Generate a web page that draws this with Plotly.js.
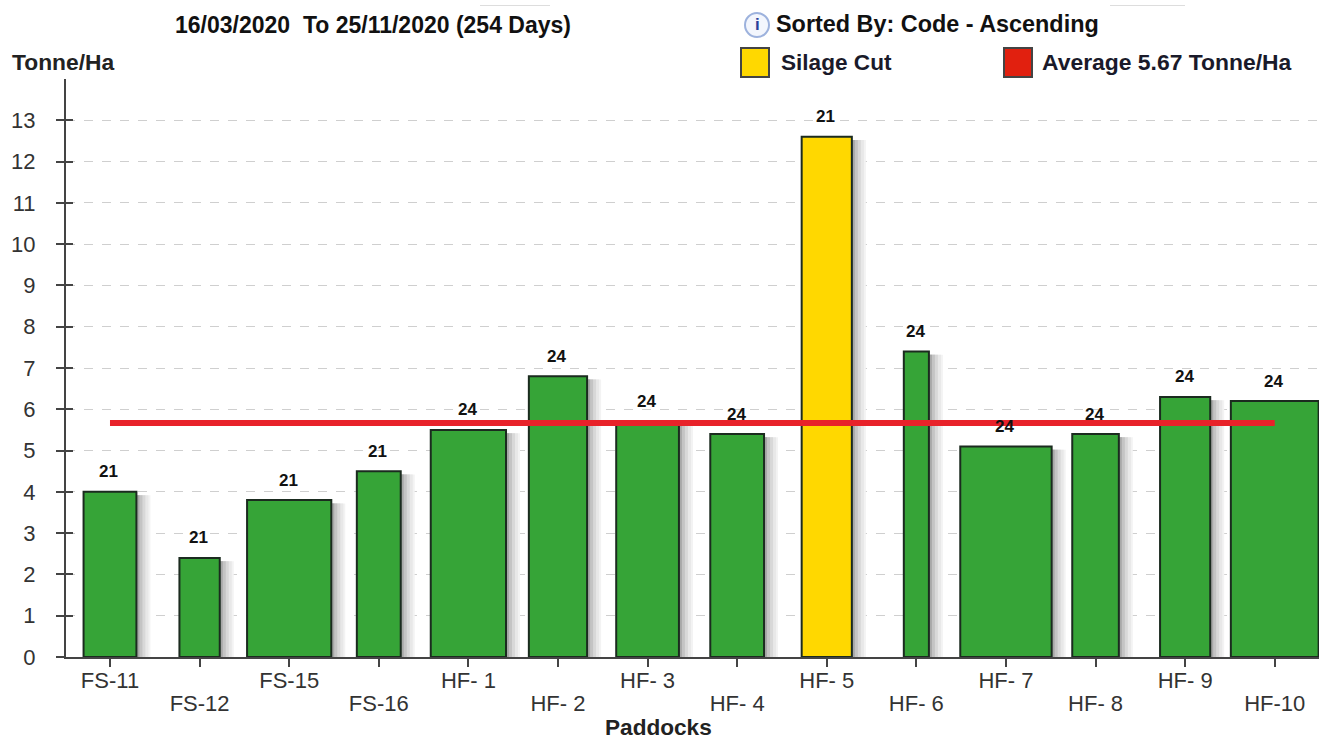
<!DOCTYPE html>
<html><head><meta charset="utf-8">
<script src="https://cdn.plot.ly/plotly-3.0.1.min.js"></script>
<style>html,body{margin:0;padding:0;background:#fff}#c{width:1319px;height:740px}</style>
</head><body><div id="c"></div>
<script>
const paddocks = ["FS-11","FS-12","FS-15","FS-16","HF- 1","HF- 2","HF- 3","HF- 4","HF- 5","HF- 6","HF- 7","HF- 8","HF- 9","HF-10"];
const tonnePerHa = [4.0,2.4,3.8,4.5,5.5,6.8,5.7,5.4,12.6,7.4,5.1,5.4,6.3,6.2];
const barLabels = ["21","21","21","21","24","24","24","24","21","24","24","24","24","24"];
const barWidths = [0.59,0.45,0.94,0.49,0.84,0.65,0.70,0.60,0.56,0.28,1.02,0.52,0.56,0.98];
const silageCut = ["HF- 5"];
const average = 5.67;

const pos = paddocks.map((_, i) => i);
const pxPerCat = 89.6;
const GREEN = "#36a437", YELLOW = "#ffd800", RED = "#e8222a", EDGE = "#1b2b1f";
const FONT = "Liberation Sans, Arial, sans-serif";

const shadowLayers = [[14,"#f3f3f3"],[12,"#e8e8e8"],[9,"#d8d8d8"],[6,"#c4c4c4"],[3,"#a8a8a8"]];
const traces = shadowLayers.map(([s, col]) => ({
  type:"bar", x:pos, y:tonnePerHa.map(v => v - 0.08), width:barWidths,
  offset:barWidths.map(w => -w/2 + s/pxPerCat),
  marker:{color:col,line:{width:0}}, hoverinfo:"skip", showlegend:false
}));
traces.push({
  type:"bar", x:pos, y:tonnePerHa, width:barWidths, name:"Paddocks",
  marker:{color:paddocks.map(p => silageCut.includes(p) ? YELLOW : GREEN), line:{color:EDGE,width:2}},
  showlegend:false
});
traces.push({
  type:"scatter", mode:"lines", x:[pos[0],pos[pos.length-1]], y:[average,average],
  line:{color:RED,width:6}, showlegend:false, name:"Average"
});
traces.push({type:"scatter",mode:"markers",x:[0],y:[0],xaxis:"x2",yaxis:"y2",opacity:0,hoverinfo:"skip",showlegend:false});

const txt = (text,x,y,size,bold,anchor,color) => ({
  text: bold ? "<b>"+text+"</b>" : text, x, y, xref:"paper", yref:"paper", xanchor:anchor||"left", yanchor:"middle",
  showarrow:false, font:{family:FONT,size,color:color||"#111"}
});
const W=1319,H=740;
const L=66,T=79,B=83,PW=W-L,PH=H-T-B;
const ax=x=>(x-L)/PW, ay=y=>(H-B-y)/PH;

const annotations = [
  ...pos.map(i => ({x:i,y:tonnePerHa[i],xref:"x",yref:"y",text:"<b>"+barLabels[i]+"</b>",showarrow:false,yanchor:"middle",xanchor:"center",yshift:20,xshift:-1,font:{family:FONT,size:17,color:"#111"}})),
  txt("16/03/2020  To 25/11/2020 (254 Days)",ax(173),ay(25),23,true),
  txt("Sorted By: Code - Ascending",ax(774),ay(24),23.4,true),
  txt("Silage Cut",ax(779),ay(62),22.6,true,"left","#1a1a2a"),
  txt("Average 5.67 Tonne/Ha",ax(1040),ay(62),22.9,true,"left","#1a1a2a"),
  txt("Tonne/Ha",ax(10),ay(62),22.8,true,"left","#222"),
  txt("Paddocks",ax(658),ay(727),22.6,true,"center","#222"),
  txt("i",ax(757),ay(25),17,true,"center","#2a3f9a")
];
const rect=(x0,y0,x1,y1,fill,line)=>({type:"rect",xref:"paper",yref:"paper",x0:ax(x0),x1:ax(x1),y0:ay(y1),y1:ay(y0),fillcolor:fill,line:{color:line,width:2}});
const faint=(x0,x1)=>({type:"line",xref:"paper",yref:"paper",x0:ax(x0),x1:ax(x1),y0:ay(5.5),y1:ay(5.5),line:{color:"#dddddd",width:1}});
const shapes = [
  rect(741,48,769,77,YELLOW,"#444"),
  rect(1004,48,1032,77,"#e1200f","#444"),
  {type:"circle",xref:"paper",yref:"paper",x0:ax(745),x1:ax(769),y0:ay(37),y1:ay(13),fillcolor:"#f3f6fd",line:{color:"#9db2dd",width:2}},
  faint(1110,1185), faint(480,550)
];
const yTicks=[0,1,2,3,4,5,6,7,8,9,10,11,12,13];
const layout = {
  width:W,height:H,margin:{l:L,r:0,t:T,b:B,pad:0},
  paper_bgcolor:"#fff",plot_bgcolor:"#fff",barmode:"overlay",showlegend:false,
  font:{family:FONT,color:"#333"},
  xaxis:{range:[-0.491,13.494],tickmode:"array",tickvals:pos,ticktext:paddocks.map((p,i)=>i%2?" ":p),
    ticks:"outside",ticklen:8,tickcolor:"#444",tickwidth:2,showgrid:false,zeroline:false,
    showline:true,linecolor:"#444",linewidth:2,tickfont:{size:22,color:"#333"},ticklabelstandoff:-5,automargin:false},
  xaxis2:{overlaying:"x",range:[-0.491,13.494],tickmode:"array",tickvals:pos.filter(i=>i%2),ticktext:paddocks.filter((p,i)=>i%2),
    ticks:"",side:"bottom",showgrid:false,zeroline:false,showline:false,tickfont:{size:22,color:"#333"},ticklabelstandoff:31,automargin:false},
  yaxis:{range:[0,14],tickmode:"array",tickvals:yTicks,
    ticks:"outside",ticklen:8,tickcolor:"#444",tickwidth:2,showgrid:true,gridcolor:"#cfcfcf",griddash:"dash",gridwidth:1,
    zeroline:false,showline:true,linecolor:"#444",linewidth:2,tickfont:{size:22,color:"#333"},ticklabelstandoff:16,automargin:false},
  yaxis2:{overlaying:"y",range:[0,14],tickmode:"array",tickvals:yTicks,
    ticks:"inside",ticklen:7,tickcolor:"#444",tickwidth:2,showticklabels:false,showgrid:false,zeroline:false,showline:false,side:"left",automargin:false},
  annotations,shapes
};
Plotly.newPlot("c",traces,layout,{displayModeBar:false,responsive:false});
</script></body></html>
